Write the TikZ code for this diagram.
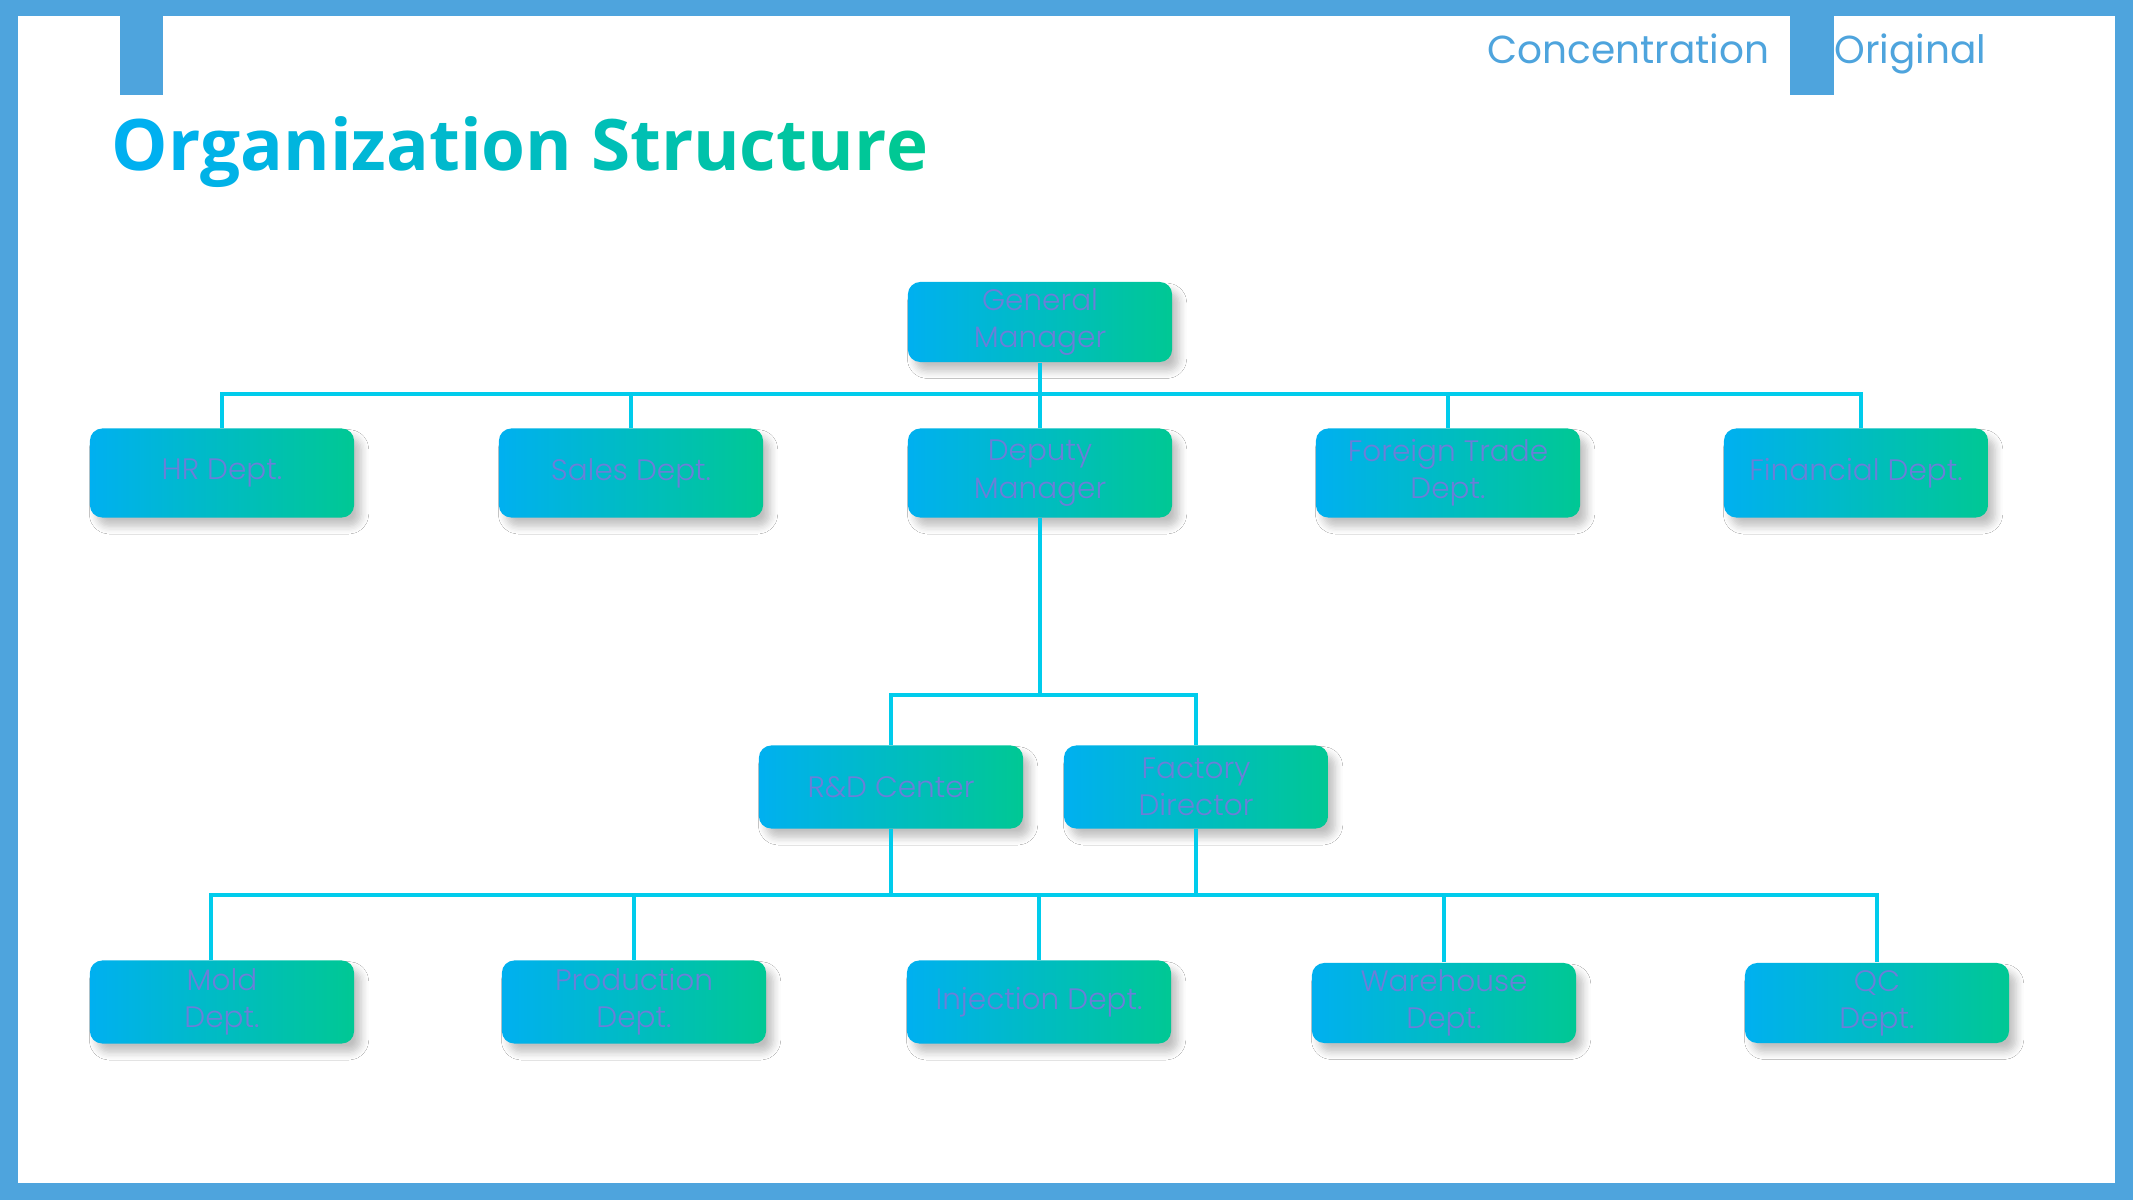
\documentclass[tikz,border=0pt]{standalone}
\usepackage{fontspec}
\setmainfont{Poppins Light}
\newfontfamily\headfont{Poppins}
\newfontfamily\titlefont{Open Sans}
\usetikzlibrary{shadows,shadows.blur,calc}
\definecolor{framecol}{RGB}{78,164,221}
\definecolor{gradA}{RGB}{0,176,240}
\definecolor{gradB}{RGB}{0,200,148}
\definecolor{linkcol}{RGB}{0,204,236}
\definecolor{labelcol}{RGB}{108,126,216}
\tikzstyle{centered} = [align=center, text centered]
\tikzstyle{dept} = [centered, rounded corners=3.5pt, left color=gradA, right color=gradB, minimum width=2.64cm, minimum height=0.83cm, inner sep=0pt, text=labelcol, font=\fontsize{8.4}{10.6}\selectfont, blur shadow={shadow blur steps=6, shadow xshift=2pt, shadow yshift=-2.5pt, shadow opacity=25}]
\tikzstyle{link} = [linkcol, line width=1.1pt]
\tikzstyle{header} = [text=framecol, inner sep=0pt, font=\headfont\fontsize{11.1}{14}\selectfont]
\newcommand{\gradtitle}{%
  \foreach \ch [count=\i] in {O,r,g,a,n,i,z,a,t,i,o,n,~,S,t,r,u,c,t,u,r,e}{%
    \pgfmathsetmacro{\mixpct}{100-(\i-1)*100/21}%
    \textcolor{gradA!\mixpct!gradB}{\ch}}}

\begin{document}
\begin{tikzpicture}[x=0.01cm, y=-0.01cm]
  % frame and tabs
  \fill [framecol] (0,0) rectangle (2133,1200);
  \fill [white] (18,16) rectangle (2115,1183);
  \fill [framecol] (120,0) rectangle (163,95);
  \fill [framecol] (1790,0) rectangle (1834,95);

  \node [header, anchor=base east] (conc) at (1770,63) {Concentration};
  \node [header, anchor=base west] (orig) at (1834,63) {Original};
  \node [anchor=base west, inner sep=0pt, font=\titlefont\bfseries\fontsize{20.2}{24}\selectfont] (title) at (111,170) {\gradtitle};

  \node [dept, minimum height=0.80cm] (gm) at (1040,322) {General\\Manager};
  \node [dept, minimum height=0.89cm] (hr) at (222,473) {HR Dept.};
  \node [dept, minimum height=0.89cm] (sales) at (631,473) {Sales Dept.};
  \node [dept, minimum height=0.89cm] (deputy) at (1040,473) {Deputy\\Manager};
  \node [dept, minimum height=0.89cm] (foreign) at (1448,473) {Foreign Trade\\Dept.};
  \node [dept, minimum height=0.89cm] (finance) at (1856,473) {Financial Dept.};
  \node [dept] (rd) at (891,787) {R\&D Center};
  \node [dept] (factory) at (1196,787) {Factory\\Director};
  \node [dept] (mold) at (222,1002) {Mold\\Dept.};
  \node [dept] (prod) at (634,1002) {Production\\Dept.};
  \node [dept] (inject) at (1039,1002) {Injection Dept.};
  \node [dept, minimum height=0.80cm] (store) at (1444,1003) {Warehouse\\Dept.};
  \node [dept, minimum height=0.80cm] (qc) at (1877,1003) {QC\\Dept.};

  \coordinate (topbus) at (1040,394);
  \coordinate (midbus) at (1040,695);
  \coordinate (lowbus) at (1040,895);

  \draw [link] (gm) -- (deputy);
  \draw [link] (hr.north) |- (topbus) -| ([xshift=0.05cm]finance.north);
  \draw [link] (sales.north) -- (sales.north |- topbus);
  \draw [link] (foreign.north) -- (foreign.north |- topbus);

  \draw [link] (deputy.south) -- (deputy.south |- midbus);
  \draw [link] (rd.north) |- (midbus) -| (factory.north);

  \draw [link] ([xshift=-0.11cm]mold.north) |- (lowbus) -| (qc.north);
  \draw [link] (rd.south) -- (rd.south |- lowbus);
  \draw [link] (factory.south) -- (factory.south |- lowbus);
  \draw [link] (prod.north) -- (prod.north |- lowbus);
  \draw [link] (inject.north) -- (inject.north |- lowbus);
  \draw [link] (store.north) -- (store.north |- lowbus);
\end{tikzpicture}
\end{document}
